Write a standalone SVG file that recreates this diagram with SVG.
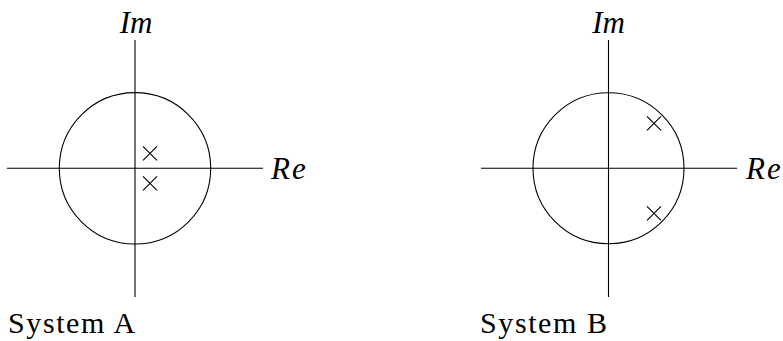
<svg xmlns="http://www.w3.org/2000/svg" width="783" height="341" viewBox="0 0 783 341">
<defs>
<path id="x" d="M-7,-7L7,7M-7,7L7,-7" stroke="#000" stroke-width="1.1" fill="none"/>
</defs>
<g id="systemA">
<g id="axesA" stroke="#000" stroke-width="1.1" fill="none">
<line x1="7" y1="168.3" x2="263" y2="168.3"/>
<line x1="135" y1="40" x2="135" y2="297"/>
<circle id="circleA" cx="135" cy="168.3" r="75.7"/>
</g>
<g id="polesA">
<use href="#x" x="150" y="153.3"/>
<use href="#x" x="150" y="183.3"/>
</g>
<g id="labelsA" font-family="Liberation Serif">
<text x="136" y="33" font-size="31" font-style="italic" text-anchor="middle">Im</text>
<text x="271" y="178.5" font-size="31" font-style="italic" letter-spacing="2">Re</text>
<text x="8" y="332.5" font-size="30" letter-spacing="1.6">System A</text>
</g>
</g>
<g id="systemB">
<g id="axesB" stroke="#000" stroke-width="1.1" fill="none">
<line x1="481" y1="168.3" x2="737" y2="168.3"/>
<line x1="608.5" y1="40" x2="608.5" y2="297"/>
<circle id="circleB" cx="608.5" cy="168.3" r="75.5"/>
</g>
<g id="polesB">
<use href="#x" x="654" y="123.3"/>
<use href="#x" x="654" y="213.3"/>
</g>
<g id="labelsB" font-family="Liberation Serif">
<text x="608.5" y="33" font-size="31" font-style="italic" text-anchor="middle">Im</text>
<text x="746" y="178.5" font-size="31" font-style="italic" letter-spacing="2">Re</text>
<text x="480" y="332.5" font-size="30" letter-spacing="1.6">System B</text>
</g>
</g>
</svg>
